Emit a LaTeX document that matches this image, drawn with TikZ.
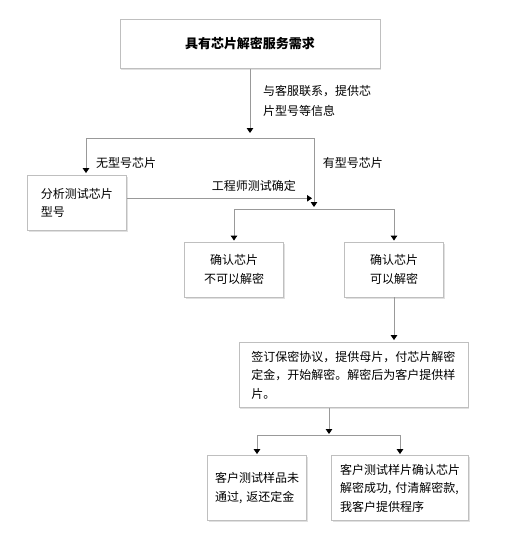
\documentclass[tikz,border=0pt]{standalone}
\usepackage{fontspec}
\setmainfont{Noto Sans CJK SC}
\usetikzlibrary{arrows.meta,positioning,shadows}

\begin{document}
\begin{tikzpicture}[x=1pt,y=-1pt,
  font=\fontsize{12}{18.5}\selectfont,
  box/.style={draw=black!25,line width=0.8pt,fill=white,inner sep=0pt,minimum height=55pt,
    drop shadow={shadow xshift=1pt,shadow yshift=-1.5pt,fill=black!12,opacity=1}},
  link/.style={draw=black!40,line width=0.8pt},
  flow/.style={link,-{Triangle[length=5pt,width=6.5pt,color=black]}},
  note/.style={inner sep=0pt,anchor=west}]
\useasboundingbox (0,0) rectangle (520,550);
% boxes
\node[box,minimum width=260pt,minimum height=49pt,font=\fontsize{13}{18.5}\selectfont\bfseries] (need) at (250,44) {具有芯片解密服务需求};
\node[box,minimum width=99pt,text width=72pt,align=left] (analyse) at (77,203) {分析测试芯片\\型号};
\node[box,minimum width=99pt,align=center] (nodecrypt) at (234,269.5) {确认芯片\\不可以解密};
\node[box,minimum width=99pt,align=center] (cancrypt) at (394,269.5) {确认芯片\\可以解密};
\node[box,minimum width=229pt,minimum height=65pt,text width=205pt,align=left] (contract) at (353.8,375) {签订保密协议，提供母片，付芯片解密\\定金，开始解密。解密后为客户提供样\\片。};
\node[box,minimum width=99pt,minimum height=65pt,text width=84pt,align=left] (fail) at (257,488) {客户测试样品未\\通过, 返还定金};
\node[box,minimum width=137pt,minimum height=65pt,text width=120pt,align=left] (success) at (400,488) {客户测试样片确认芯片\\解密成功, 付清解密款,\\我客户提供程序};
% labels
\node[note,align=left,font=\fontsize{12}{20}\selectfont] (contact) at (263,100.7) {与客服联系，提供芯\\片型号等信息};
\node[note] (nomodel) at (96,163.3) {无型号芯片};
\node[note] (hasmodel) at (322.7,163.3) {有型号芯片};
\node[note] (engineer) at (211.7,185.7) {工程师测试确定};
% junctions
\coordinate (split1) at (250,138);
\coordinate (split2) at (314,209);
\coordinate (meet) at (312,198.3);
\coordinate (split3) at (329,435);
% connectors
\draw[flow,shorten >=5pt] (need) -- (split1);
\draw[flow,shorten >=2pt] (split1) -| ([xshift=9pt]analyse.north);
\draw[flow,shorten >=2pt] (split1) -| (split2);
\draw[flow] (analyse.east |- meet) -- (meet);
\draw[flow,shorten >=1pt] (split2) -| (nodecrypt);
\draw[flow,shorten >=1pt] (split2) -| (cancrypt);
\draw[flow,shorten >=2pt] (cancrypt) -- (cancrypt |- contract.north);
\draw[flow,shorten >=1pt] (contract.south -| split3) -- (split3);
\draw[flow,shorten >=1pt] (split3) -| (fail);
\draw[flow,shorten >=1pt] (split3) -| (success);
\end{tikzpicture}
\end{document}
